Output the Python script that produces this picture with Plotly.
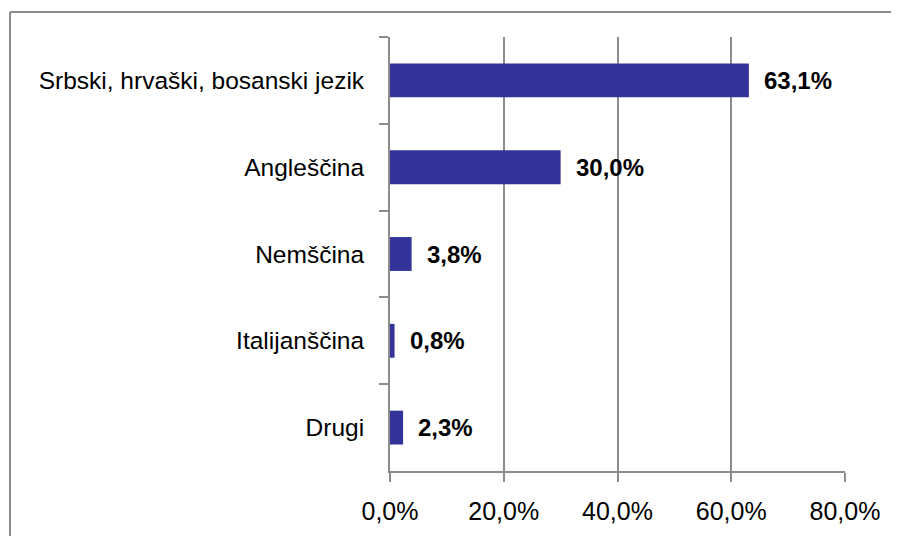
import plotly.graph_objects as go

categories = ["Srbski, hrvaški, bosanski jezik", "Angleščina", "Nemščina", "Italijanščina", "Drugi"]
values = [0.631, 0.300, 0.038, 0.008, 0.023]
labels = ["63,1%", "30,0%", "3,8%", "0,8%", "2,3%"]
x_ticks = [0.0, 0.2, 0.4, 0.6, 0.8]

# page has an 8px body margin on every side; keep the figure inside the
# viewport so no scrollbars appear
OFF = 8
W, H = 899 - 2 * OFF, 544 - 2 * OFF
L, T = 390 - OFF, 37 - OFF
R = W - (845 - OFF)
B = H - (471 - OFF)
pw, ph = W - L - R, H - T - B

fig = go.Figure()
fig.add_trace(go.Bar(
    y=categories, x=values, orientation="h",
    marker=dict(color="#333399", line=dict(width=0)),
    width=0.39, hoverinfo="skip",
))
for c, v, t in zip(categories, values, labels):
    fig.add_annotation(x=v, y=c, text="<b>%s</b>" % t, showarrow=False,
                       xanchor="left", yanchor="middle", xshift=13,
                       font=dict(family="Liberation Sans", size=24, color="#000000"))

def fx(px):
    return (px - OFF - L) / pw
def fy(py):
    return (H - B - (py - OFF)) / ph

border = dict(color="#8c8c8c", width=2)
fig.add_shape(type="line", xref="paper", yref="paper",
              x0=fx(10), x1=fx(899), y0=fy(12), y1=fy(12), line=border, layer="below")
fig.add_shape(type="line", xref="paper", yref="paper",
              x0=fx(10), x1=fx(10), y0=fy(12), y1=fy(544), line=border, layer="below")

fig.update_layout(
    width=W, height=H, margin=dict(l=L, r=R, t=T, b=B, autoexpand=False),
    paper_bgcolor="white", plot_bgcolor="white",
    separators=", ", showlegend=False,
    font=dict(family="Liberation Sans", size=24.5, color="#000000"),
    xaxis=dict(range=[0, 0.8], tickvals=x_ticks, tickformat=".1%",
               tickfont=dict(size=25),
               showgrid=True, gridcolor="#8c8c8c", gridwidth=1.5,
               showline=True, linecolor="#8c8c8c", linewidth=2,
               ticks="outside", ticklen=9, tickcolor="#8c8c8c", tickwidth=2,
               ticklabelstandoff=8,
               zeroline=False, fixedrange=True),
    yaxis=dict(autorange="reversed", showgrid=False, zeroline=False,
               showline=True, linecolor="#8c8c8c", linewidth=2,
               ticks="outside", ticklen=9, tickcolor="#8c8c8c", tickwidth=2,
               tickson="boundaries", ticklabelstandoff=19, fixedrange=True),
)

fig.write_html("out.html")
